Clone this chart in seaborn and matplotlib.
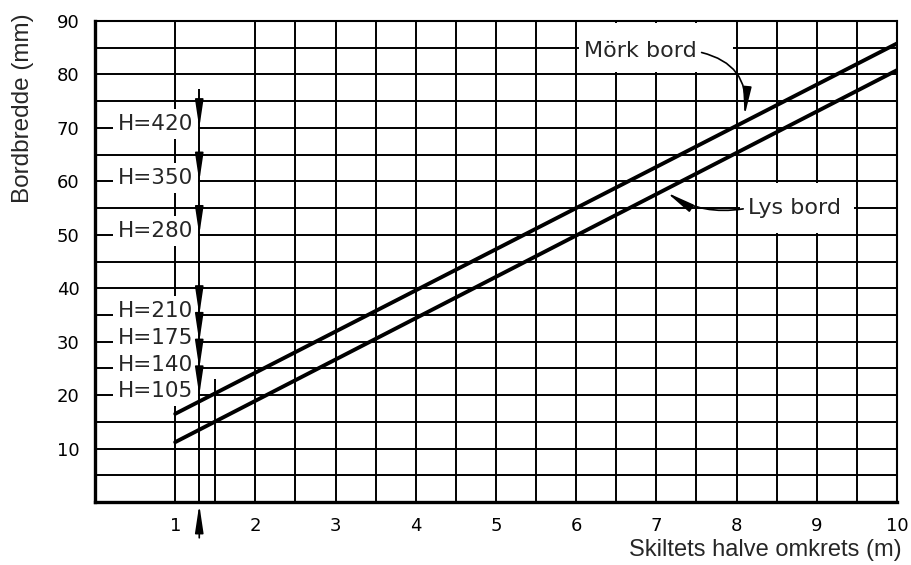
import seaborn as sns
import pandas as pd
import matplotlib.pyplot as plt
from matplotlib.patches import Rectangle

# data lest av diagrammet
omkrets = [1, 10]
mork_bord = [16.5, 85.8]
lys_bord = [11.2, 80.8]
h_verdier = [420, 350, 280, 210, 175, 140, 105]
h_bredde = [70, 60, 50, 35, 30, 25, 20]
eksempel_omkrets = 1.3   # den loddrette pila
eksempel_topp = 77.3
x_ticks = list(range(1, 11))
y_ticks = list(range(10, 91, 10))


def lag_data():
    df = pd.DataFrame({
        "omkrets": omkrets + omkrets,
        "bredde": mork_bord + lys_bord,
        "bord": ["Mörk bord"] * len(omkrets) + ["Lys bord"] * len(omkrets),
    })
    return df


def tegn_rutenett(ax):
    ax.set_xlim(0, 10)
    ax.set_ylim(0, 90)
    ax.set_xticks(x_ticks)
    ax.set_yticks(y_ticks)
    ax.set_xticks([x + 0.5 for x in x_ticks[1:-1]], minor=True)
    ax.set_yticks([y - 5 for y in y_ticks], minor=True)
    ax.set_axisbelow(True)
    ax.grid(True, which="both", color="black", linewidth=1.4)
    # kort linje ved 1.5
    ax.vlines(1.5, 0, 23, color="black", linewidth=1.4, zorder=0.5)
    # hvite felt bak etikettene
    ax.add_patch(Rectangle((6.04, 80.4), 1.92, 9.3, facecolor="white", edgecolor="none", zorder=1))
    ax.add_patch(Rectangle((8.04, 50.4), 1.42, 9.2, facecolor="white", edgecolor="none", zorder=1))


def tegn_h_etiketter(ax):
    pil = dict(arrowstyle="-|>,head_length=1.2,head_width=0.18", color="black",
               lw=1.2, shrinkA=0, shrinkB=0, mutation_scale=14)
    for v, h in zip(h_verdier, h_bredde):
        ax.text(0.28, h + 0.7, f"H={v}", fontsize=15.5, ha="left", va="center",
                bbox=dict(facecolor="white", edgecolor="none", pad=3.5), zorder=3)
        ax.annotate("", xy=(eksempel_omkrets, h), xytext=(eksempel_omkrets, h + 3.8),
                    arrowprops=pil, zorder=3.6)
    ax.vlines(eksempel_omkrets, 0, eksempel_topp, color="black", linewidth=1.4, zorder=3.5)
    ax.annotate("", xy=(eksempel_omkrets, -0.5), xytext=(eksempel_omkrets, -6.7),
                arrowprops=pil, annotation_clip=False)


def tegn_kurve_etiketter(ax):
    pil = dict(arrowstyle="-|>,head_length=1.2,head_width=0.18", color="black",
               lw=1.2, shrinkA=1, shrinkB=0, mutation_scale=14)
    ax.annotate("Mörk bord", xy=(8.1, 72.3), xytext=(6.1, 84.3), fontsize=16,
                ha="left", va="center", zorder=5,
                arrowprops=dict(pil, relpos=(1, 0.5), connectionstyle="arc3,rad=-0.45"))
    ax.annotate("Lys bord", xy=(7.13, 57.9), xytext=(8.14, 55.0), fontsize=16,
                ha="left", va="center", zorder=5,
                arrowprops=dict(pil, relpos=(0, 0.5), connectionstyle="arc3,rad=-0.2"))


def generate_image():
    sns.set_theme(style="white")
    plt.rcParams["font.family"] = ["DejaVu Sans"]
    fig = plt.figure(figsize=(9.12, 5.65), dpi=100)
    ax = fig.add_axes([95 / 912, 1 - 502 / 565, 802 / 912, 481 / 565])

    tegn_rutenett(ax)
    df = lag_data()
    sns.lineplot(data=df, x="omkrets", y="bredde", hue="bord",
                 palette=["black", "black"], linewidth=2.8, legend=False,
                 ax=ax, zorder=4)
    tegn_h_etiketter(ax)
    tegn_kurve_etiketter(ax)

    for side in ["left", "bottom"]:
        ax.spines[side].set_linewidth(2.4)
    for side in ["top", "right"]:
        ax.spines[side].set_linewidth(1.5)
    for s in ax.spines.values():
        s.set_color("black")
    ax.tick_params(axis="both", which="both", length=0, labelsize=13, colors="black")
    ax.tick_params(axis="x", pad=11)
    ax.tick_params(axis="y", pad=11)

    ax.set_xlabel("Skiltets halve omkrets (m)", fontsize=17, family="Liberation Sans", loc="right")
    ax.xaxis.set_label_coords((902 - 95) / 802, -(550 - 502) / 481)
    ax.xaxis.label.set_va("center")
    ax.set_ylabel("Bordbredde (mm)", fontsize=17.5, family="Liberation Sans")
    ax.yaxis.set_label_coords((23 - 95) / 802, (502 - 108) / 481)
    ax.yaxis.label.set_va("center")

    fig.savefig("out.png", dpi=100)


if __name__ == "__main__":
    generate_image()
